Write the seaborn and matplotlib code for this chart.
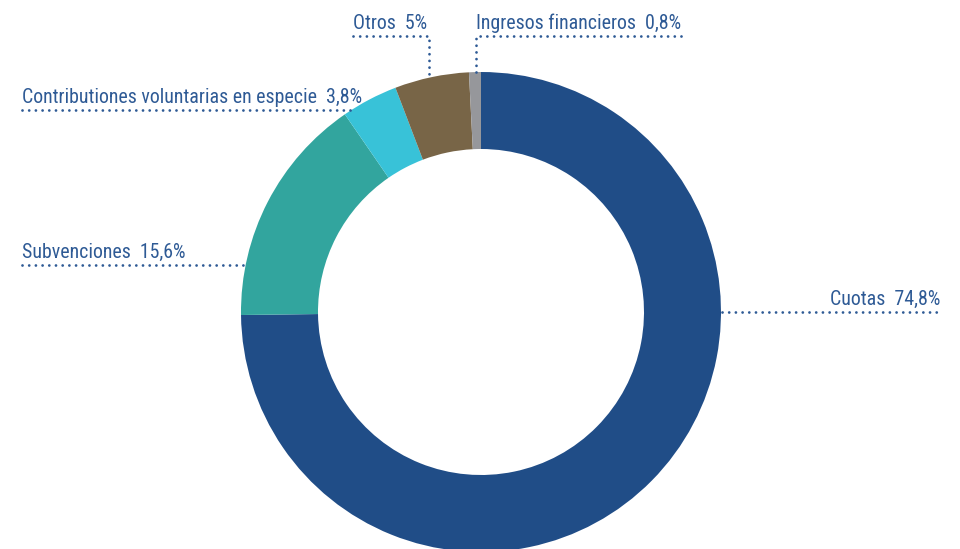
import matplotlib
matplotlib.use("Agg")
import matplotlib.pyplot as plt
import seaborn as sns

categories = ["Cuotas", "Subvenciones", "Contributiones voluntarias en especie", "Otros", "Ingresos financieros"]
values = [74.8, 15.6, 3.8, 5.0, 0.8]
value_labels = ["74,8%", "15,6%", "3,8%", "5%", "0,8%"]
colors = ["#204d87", "#32a59e", "#38c2d8", "#786547", "#96979b"]

sns.set_theme(style="white")
plt.rcParams["font.family"] = ["Roboto Condensed", "Liberation Sans Narrow", "DejaVu Sans"]

TXT = "#2e5a95"
fig = plt.figure(figsize=(9.6, 5.49), dpi=100)
ax = fig.add_axes([0, 0, 1, 1])

cx, cy, R = 481, 549 - 312, 240
ax.pie(values, colors=colors, startangle=90, counterclock=False, center=(cx, cy),
       radius=R, wedgeprops=dict(width=R - 163, linewidth=0), frame=True)
ax.set_xlim(0, 960)
ax.set_ylim(0, 549)
ax.set_aspect("equal")
ax.axis("off")

dot = dict(color=TXT, lw=2.0, linestyle=(0, (0.01, 2.4)), dash_capstyle="round")
fs = 14.3
tk = dict(va="baseline", fontsize=fs, color=TXT)

def Y(y):
    return 549 - y

# Cuotas
ax.plot([722, 942], [Y(312), Y(312)], **dot)
ax.text(940, Y(305), f"{categories[0]}  {value_labels[0]}", ha="right", **tk)
# Subvenciones
ax.plot([22, 246], [Y(265), Y(265)], **dot)
ax.text(22, Y(258), f"{categories[1]}  {value_labels[1]}", ha="left", **tk)
# Contribuciones
ax.plot([22, 352], [Y(110), Y(110)], **dot)
ax.text(22, Y(103), f"{categories[2]}  {value_labels[2]}", ha="left", **tk)
# Otros
ax.plot([353, 429, 429], [Y(36), Y(36), Y(76)], **dot)
ax.text(353, Y(29), f"{categories[3]}  {value_labels[3]}", ha="left", **tk)
# Ingresos
ax.plot([681, 476, 476], [Y(36), Y(36), Y(72)], **dot)
ax.text(476, Y(29), f"{categories[4]}  {value_labels[4]}", ha="left", **tk)

fig.savefig("out.png", dpi=100)
